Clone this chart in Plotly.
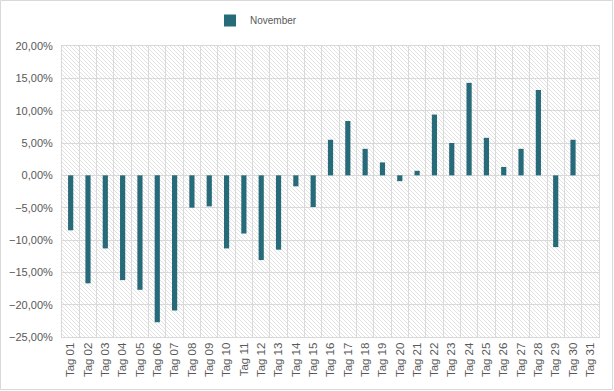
import base64
import plotly.graph_objects as go

days = [f"Tag {i:02d}" for i in range(1, 32)]
november = [-0.085, -0.167, -0.113, -0.162, -0.177, -0.227, -0.209, -0.050, -0.048, -0.113,
            -0.090, -0.131, -0.115, -0.017, -0.049, 0.055, 0.084, 0.041, 0.020, -0.009,
            0.007, 0.094, 0.050, 0.143, 0.058, 0.013, 0.041, 0.132, -0.111, 0.055, None]
y_ticks = [0.20, 0.15, 0.10, 0.05, 0.0, -0.05, -0.10, -0.15, -0.20, -0.25]

W, H = 614, 391
L, R, T, B = 62, 15, 46, 54
pw, ph = W - L - R, H - T - B

svg = f'''<svg xmlns="http://www.w3.org/2000/svg" width="{pw}" height="{ph}" viewBox="0 0 {pw} {ph}" preserveAspectRatio="none">
<defs><pattern id="p" patternUnits="userSpaceOnUse" width="4" height="4">
<path d="M-1,-1 L5,5 M-1,3 L1,5 M3,-1 L5,1" stroke="#e2e2e2" stroke-width="1"/></pattern></defs>
<rect width="{pw}" height="{ph}" fill="url(#p)"/></svg>'''
src = "data:image/svg+xml;base64," + base64.b64encode(svg.encode()).decode()

fig = go.Figure()
fig.add_trace(go.Bar(x=days, y=november, name="November",
                     marker=dict(color="#276b7a", line=dict(width=0)),
                     width=0.3))

font_color = "#595959"
fig.update_layout(
    width=W, height=H,
    margin=dict(l=L, r=R, t=T, b=B, autoexpand=False),
    paper_bgcolor="white",
    plot_bgcolor="rgba(0,0,0,0)",
    separators=",.",
    font=dict(family="Liberation Sans, Arial, sans-serif", size=10, color=font_color),
    showlegend=True,
    legend=dict(orientation="h", x=(210 - L) / pw, xanchor="left",
                y=1 + (T - 6) / ph, yanchor="top",
                font=dict(size=10, color=font_color), bgcolor="rgba(0,0,0,0)"),
    images=[dict(source=src, xref="paper", yref="paper", x=0, y=1,
                 sizex=1, sizey=1, sizing="stretch", layer="below")],
    shapes=[dict(type="rect", xref="paper", yref="paper",
                 x0=-(L - 0.5) / pw, x1=1 + (R - 1.5) / pw,
                 y0=-(B - 1.5) / ph, y1=1 + (T - 0.5) / ph,
                 line=dict(color="#d9d9d9", width=1))],
)
fig.update_xaxes(type="category", tickson="boundaries", showgrid=True,
                 gridcolor="#d9d9d9", gridwidth=1, tickangle=-90,
                 ticks="", showline=True, linecolor="#d9d9d9", mirror=True,
                 tickfont=dict(size=11.5, color=font_color), range=[-0.5, 30.5])
fig.update_yaxes(range=[-0.25, 0.20], tickvals=y_ticks, tickformat=".2%",
                 showgrid=True, gridcolor="#d9d9d9", gridwidth=1,
                 zeroline=False, showline=True, linecolor="#d9d9d9", mirror=True,
                 ticks="", ticklabelstandoff=6,
                 tickfont=dict(size=11, color=font_color))

fig.write_html("out.html", config={"displayModeBar": False},
               post_script="document.body.style.margin='0';")
